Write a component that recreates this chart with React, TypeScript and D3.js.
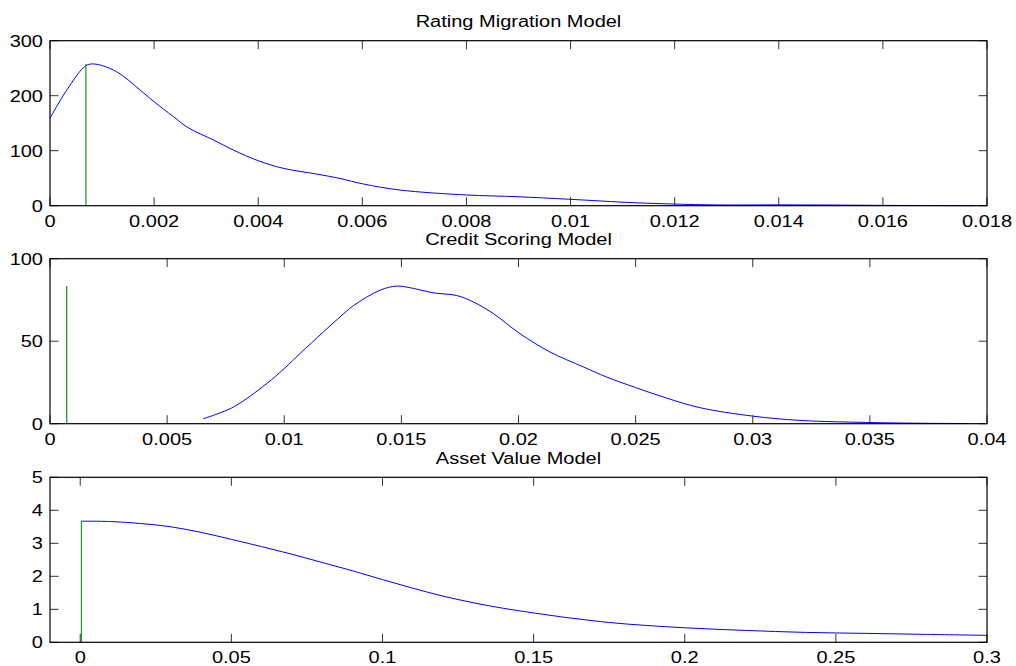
import React from "react";
import * as d3 from "d3";

// ---------- data ----------
const titles = ["Rating Migration Model", "Credit Scoring Model", "Asset Value Model"];

const ratingX = [0, 0.00032, 0.00069, 0.00086, 0.00128, 0.00173, 0.002, 0.00237, 0.00265, 0.00314, 0.00352, 0.004, 0.00448, 0.00512, 0.00557, 0.00602, 0.00672, 0.008, 0.00897, 0.01, 0.0112, 0.012, 0.0125, 0.013, 0.014, 0.015, 0.016, 0.017, 0.01777];
const ratingY = [159, 210, 254.5, 257.6, 243.6, 210.4, 189, 162, 142, 119.5, 101.3, 81.8, 68, 57.6, 49.5, 39.5, 28.5, 19.5, 16.4, 11.6, 5.5, 3, 1.8, 1.3, 1.5, 1.2, 0.6, 0.3, 0.1];
const ratingMarkX = 0.00069;

const creditX = [0.00654, 0.00783, 0.00925, 0.01003, 0.01067, 0.01167, 0.01238, 0.01295, 0.01409, 0.0148, 0.01551, 0.01636, 0.01736, 0.01807, 0.01892, 0.02006, 0.02134, 0.02277, 0.02376, 0.025, 0.02633, 0.02775, 0.03, 0.03202, 0.035, 0.037, 0.03916];
const creditY = [3.0, 10.1, 24.3, 33.8, 42.5, 55.6, 64.7, 71.5, 80.9, 83.4, 82, 79.3, 77.7, 73.8, 66.8, 54.6, 43.5, 34.4, 28.3, 21.9, 15.5, 9.7, 4.6, 2.0, 0.7, 0.3, 0.1];
const creditMarkX = 0.000713;

const assetX = [0.0002, 0.01, 0.02, 0.03, 0.04, 0.05, 0.06, 0.07, 0.08, 0.09, 0.1, 0.11, 0.12, 0.13, 0.14, 0.15, 0.16, 0.17, 0.18, 0.2, 0.22, 0.24, 0.26, 0.28, 0.3];
const assetY = [3.67, 3.66, 3.6, 3.5, 3.33, 3.12, 2.9, 2.67, 2.42, 2.17, 1.9, 1.64, 1.4, 1.2, 1.03, 0.89, 0.76, 0.65, 0.56, 0.44, 0.36, 0.3, 0.27, 0.24, 0.21];
const assetMarkX = 0.0004;

const ratingXTicks = [0, 0.002, 0.004, 0.006, 0.008, 0.01, 0.012, 0.014, 0.016, 0.018];
const ratingYTicks = [0, 100, 200, 300];
const creditXTicks = [0, 0.005, 0.01, 0.015, 0.02, 0.025, 0.03, 0.035, 0.04];
const creditYTicks = [0, 50, 100];
const assetXTicks = [0, 0.05, 0.1, 0.15, 0.2, 0.25, 0.3];
const assetYTicks = [0, 1, 2, 3, 4, 5];

const xDomains: [number, number][] = [[0, 0.018], [0, 0.04], [-0.01, 0.3]];
const yDomains: [number, number][] = [[0, 300], [0, 100], [0, 5]];

// ---------- layout ----------
const W = 1016, H = 666;
const L = 50, R = 987;
const TOPS = [40.7, 258.7, 477.3];
const PH = 165;
const TICK = 8.5;
const FS = 16;
const SX = 1.25;
const FONT = "'Liberation Sans', Arial, Helvetica, sans-serif";

const fmt = (v: number) => String(+v.toFixed(4));

function T({ x, y, anchor, children }: { x: number; y: number; anchor: string; children: any }) {
  return (
    <text transform={`translate(${x},${y}) scale(${SX},1)`} textAnchor={anchor} fontFamily={FONT} fontSize={FS} fill="#000">
      {children}
    </text>
  );
}

function Panel({ i, xs, ys, markX, xTicks, yTicks }: any) {
  const top = TOPS[i];
  const bottom = top + PH;
  const x = d3.scaleLinear().domain(xDomains[i]).range([L, R]);
  const y = d3.scaleLinear().domain(yDomains[i]).range([bottom, top]);
  const pts: [number, number][] = xs.map((v: number, k: number) => [v, ys[k]]);
  const line = d3.line<[number, number]>().x(d => x(d[0])).y(d => y(d[1])).curve(d3.curveCatmullRom.alpha(0.5));
  const peak = d3.max(ys as number[]) as number;
  return (
    <g>
      <T x={(L + R) / 2} y={top - 13.5} anchor="middle">{titles[i]}</T>
      <path d={line(pts) || ""} fill="none" stroke="#0000ff" strokeWidth={1} />
      <line x1={x(markX)} x2={x(markX)} y1={y(0)} y2={y(peak)} stroke="#2a9a2a" strokeWidth={1.3} />
      {xTicks.map((t: number) => (
        <g key={"x" + t}>
          <line x1={x(t)} x2={x(t)} y1={bottom} y2={bottom - TICK} stroke="#333" strokeWidth={1} />
          <line x1={x(t)} x2={x(t)} y1={top} y2={top + TICK} stroke="#333" strokeWidth={1} />
          <T x={x(t)} y={bottom + 21} anchor="middle">{fmt(t)}</T>
        </g>
      ))}
      {yTicks.map((t: number) => (
        <g key={"y" + t}>
          <line x1={L} x2={L + TICK} y1={y(t)} y2={y(t)} stroke="#333" strokeWidth={1} />
          <line x1={R} x2={R - TICK} y1={y(t)} y2={y(t)} stroke="#333" strokeWidth={1} />
          <T x={L - 7} y={y(t) + 6} anchor="end">{fmt(t)}</T>
        </g>
      ))}
      <rect x={L} y={top} width={R - L} height={PH} fill="none" stroke="#000" strokeWidth={1.2} />
    </g>
  );
}

export default function App() {
  return (
    <svg width={W} height={H} style={{ position: "absolute", left: 0, top: 0, background: "#fff" }}>
      <rect width={W} height={H} fill="#fff" />
      <Panel i={0} xs={ratingX} ys={ratingY} markX={ratingMarkX} xTicks={ratingXTicks} yTicks={ratingYTicks} />
      <Panel i={1} xs={creditX} ys={creditY} markX={creditMarkX} xTicks={creditXTicks} yTicks={creditYTicks} />
      <Panel i={2} xs={assetX} ys={assetY} markX={assetMarkX} xTicks={assetXTicks} yTicks={assetYTicks} />
    </svg>
  );
}
